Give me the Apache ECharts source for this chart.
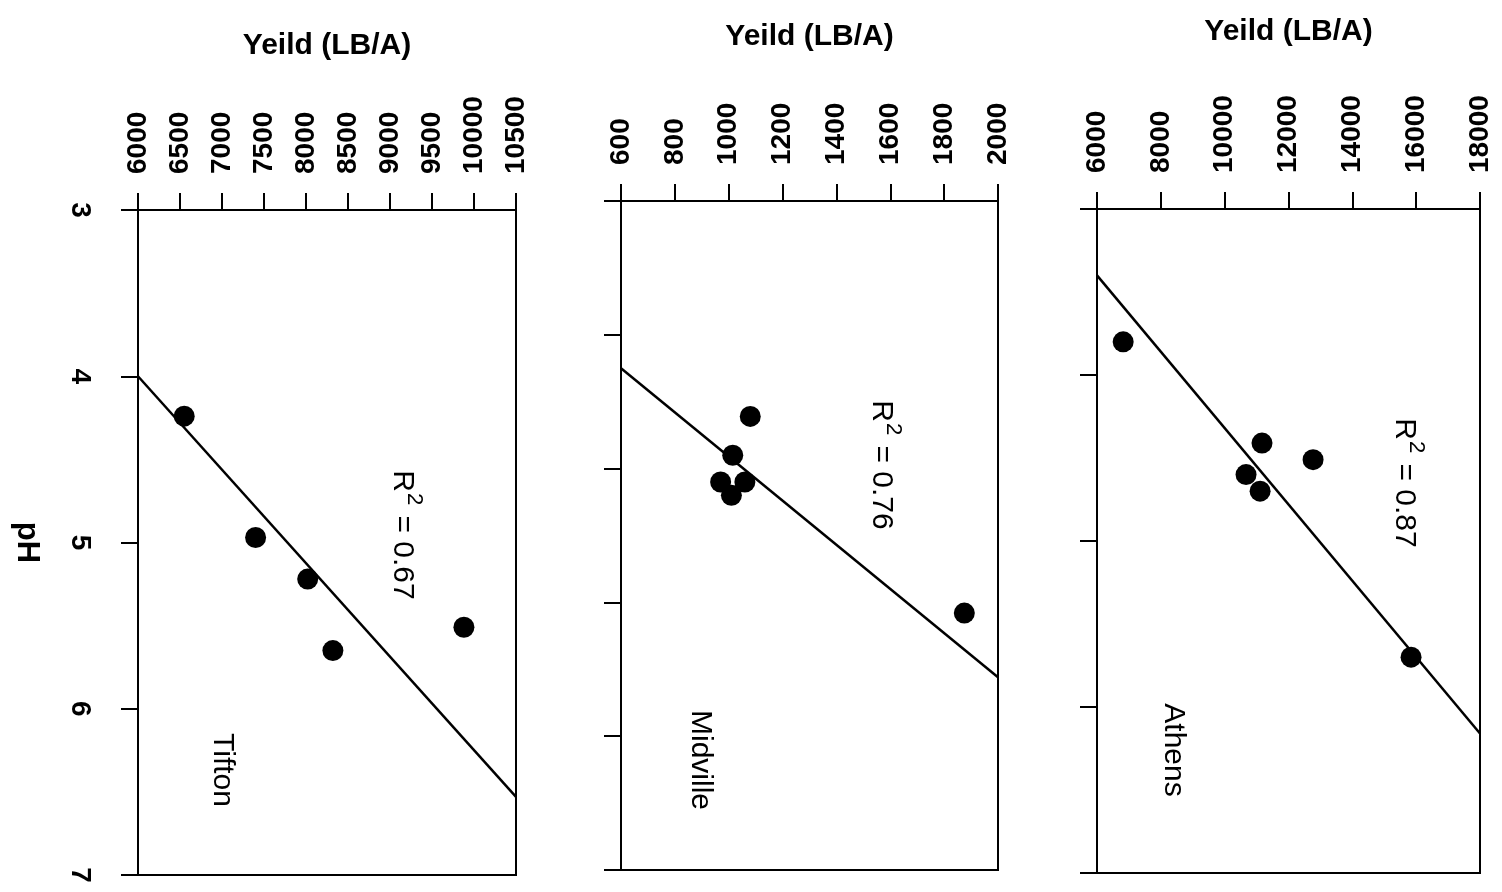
<!DOCTYPE html>
<html>
<head>
<meta charset="utf-8">
<script src="https://cdn.jsdelivr.net/npm/echarts@6/dist/echarts.min.js"></script>
<style>
html,body{margin:0;padding:0;background:#fff;}
#c{width:1502px;height:892px;}
</style>
</head>
<body>
<div id="c"></div>
<script>
// ---- Data (yield in LB/A, pH) ----
const sites = ['Tifton', 'Midville', 'Athens'];
const rSquared = ['0.67', '0.76', '0.87'];

const tiftonPH = [4.24, 4.97, 5.22, 5.51, 5.65];
const tiftonYield = [6550, 7400, 8020, 9880, 8320];
const tiftonLinePH = [4.0, 6.53];
const tiftonLineYield = [6000, 10500];

const midvillePH = [4.61, 4.90, 5.10, 5.10, 5.20, 6.08];
const midvilleYield = [1080, 1015, 970, 1060, 1010, 1875];
const midvilleLinePH = [4.25, 6.56];
const midvilleLineYield = [600, 2000];

const athensPH = [3.80, 4.41, 4.51, 4.60, 4.70, 5.70];
const athensYield = [6820, 11170, 12770, 10670, 11110, 15840];
const athensLinePH = [3.40, 6.16];
const athensLineYield = [6000, 18000];

// axis ranges
const yieldMin = [6000, 600, 6000];
const yieldMax = [10500, 2000, 18000];
const yieldStep = [500, 200, 2000];
const phMin = [3, 3, 3];
const phMax = [7, 8, 7];

const FONT = 'Liberation Sans, Arial, Helvetica, sans-serif';

const pts = (ys, ps) => ys.map((v, i) => [v, ps[i]]);
const scatterData = [pts(tiftonYield, tiftonPH), pts(midvilleYield, midvillePH), pts(athensYield, athensPH)];
const lineData = [pts(tiftonLineYield, tiftonLinePH), pts(midvilleLineYield, midvilleLinePH), pts(athensLineYield, athensLinePH)];

const grids = [
  {left: 138, top: 210, width: 378, height: 665},
  {left: 621, top: 201, width: 377, height: 669},
  {left: 1097, top: 209, width: 383, height: 664}
];
const nameGaps = [149, 149, 162];

const xAxes = [], yAxes = [], series = [];
for (let i = 0; i < 3; i++) {
  xAxes.push({
    type: 'value', gridIndex: i, position: 'top',
    min: yieldMin[i], max: yieldMax[i], interval: yieldStep[i],
    name: 'Yeild (LB/A)', nameLocation: 'middle', nameGap: nameGaps[i],
    nameTextStyle: {fontFamily: FONT, fontSize: 30, fontWeight: 'bold', color: '#000'},
    axisLine: {show: true, lineStyle: {color: '#000', width: 2}},
    axisTick: {show: true, inside: false, length: 17, lineStyle: {color: '#000', width: 2}},
    axisLabel: {show: true, rotate: -90, margin: 36, fontFamily: FONT, fontSize: 28, fontWeight: 'bold', color: '#000',
      showMinLabel: true, showMaxLabel: true, formatter: v => String(v)},
    splitLine: {show: false}
  });
  yAxes.push({
    type: 'value', gridIndex: i, inverse: true,
    min: phMin[i], max: phMax[i], interval: 1,
    name: i === 0 ? 'pH' : '', nameLocation: 'middle', nameGap: 96, nameRotate: -90,
    nameTextStyle: {fontFamily: FONT, fontSize: 31, fontWeight: 'bold', color: '#000'},
    axisLine: {show: true, lineStyle: {color: '#000', width: 2}},
    axisTick: {show: true, inside: false, length: 17, lineStyle: {color: '#000', width: 2}},
    axisLabel: {show: i === 0, rotate: -90, margin: 44, fontFamily: FONT, fontSize: 28, fontWeight: 'bold', color: '#000',
      formatter: v => String(v)},
    splitLine: {show: false}
  });
  series.push({
    type: 'line', xAxisIndex: i, yAxisIndex: i, data: lineData[i],
    showSymbol: false, symbol: 'none', lineStyle: {color: '#000', width: 2.5}, animation: false, silent: true
  });
  series.push({
    type: 'scatter', xAxisIndex: i, yAxisIndex: i, data: scatterData[i],
    symbol: 'circle', symbolSize: 21, itemStyle: {color: '#000', opacity: 1}, animation: false
  });
}

const rPos = [[406, 535], [885, 465], [1408, 483]];
const sitePos = [[222, 770], [700, 760], [1173, 750]];
const graphics = [];
for (let i = 0; i < 3; i++) {
  graphics.push({
    type: 'text', x: rPos[i][0], y: rPos[i][1], rotation: -Math.PI / 2,
    style: {
      text: '{a|R}{s|2}{a| = ' + rSquared[i] + '}',
      align: 'center', verticalAlign: 'middle',
      rich: {
        a: {fontFamily: FONT, fontSize: 30, fill: '#000', lineHeight: 38, verticalAlign: 'bottom'},
        s: {fontFamily: FONT, fontSize: 22, fill: '#000', lineHeight: 38, verticalAlign: 'top', padding: [0, 2, 0, 1]}
      }
    }
  });
  graphics.push({
    type: 'text', x: sitePos[i][0], y: sitePos[i][1], rotation: -Math.PI / 2,
    style: {text: sites[i], fontFamily: FONT, fontSize: 30, fill: '#000', align: 'center', verticalAlign: 'middle'}
  });
}

const chart = echarts.init(document.getElementById('c'), null, {renderer: 'canvas'});
chart.setOption({
  backgroundColor: '#fff',
  animation: false,
  grid: grids.map(g => Object.assign({show: true, borderColor: '#000', borderWidth: 2, backgroundColor: 'transparent', containLabel: false}, g)),
  xAxis: xAxes,
  yAxis: yAxes,
  series: series,
  graphic: graphics
});
</script>
</body>
</html>
